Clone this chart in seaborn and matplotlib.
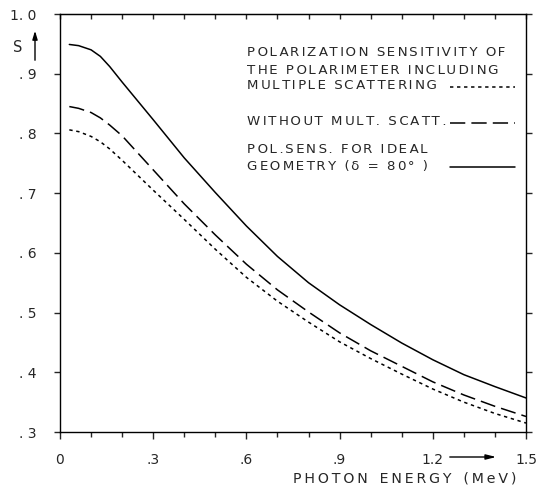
import numpy as np
import pandas as pd
import matplotlib
matplotlib.use("Agg")
import matplotlib.pyplot as plt
import seaborn as sns

# ---- data ----
energy = [0.03, 0.06, 0.1, 0.13, 0.16, 0.2, 0.3, 0.4, 0.5, 0.6, 0.7, 0.8, 0.9, 1.0, 1.1, 1.2, 1.3, 1.4, 1.5]
s_ideal = [0.949, 0.947, 0.940, 0.929, 0.912, 0.886, 0.823, 0.759, 0.701, 0.645, 0.594, 0.550, 0.513,
           0.480, 0.449, 0.421, 0.396, 0.376, 0.357]
s_no_mult = [0.845, 0.842, 0.835, 0.826, 0.814, 0.796, 0.739, 0.682, 0.630, 0.581, 0.538, 0.501, 0.466,
             0.436, 0.410, 0.384, 0.362, 0.343, 0.326]
s_mult = [0.806, 0.803, 0.795, 0.786, 0.774, 0.755, 0.705, 0.656, 0.606, 0.559, 0.519, 0.484, 0.451,
          0.423, 0.397, 0.372, 0.350, 0.331, 0.315]

x_ticks = [0, 0.3, 0.6, 0.9, 1.2, 1.5]
x_ticklabels = ["0", ".3", ".6", ".9", "1.2", "1.5"]
y_ticks = [0.3, 0.4, 0.5, 0.6, 0.7, 0.8, 0.9, 1.0]
y_ticklabels = [". 3", ". 4", ". 5", ". 6", ". 7", ". 8", ". 9", "1. 0"]

legend_lines = [
    ["POLARIZATION SENSITIVITY OF", "THE POLARIMETER INCLUDING", "MULTIPLE SCATTERING"],
    ["WITHOUT MULT. SCATT."],
    ["POL.SENS. FOR IDEAL", "GEOMETRY (δ = 80° )"],
]
xlabel = "PHOTON ENERGY (MeV)"
ylabel = "S"

df = pd.DataFrame({"E": energy, "ideal": s_ideal, "nomult": s_no_mult, "mult": s_mult})

sns.set_style("ticks")
plt.rcParams["font.family"] = ["DejaVu Sans"]

fig = plt.figure(figsize=(5.39, 4.87), dpi=100)
ax = fig.add_axes([60 / 539, 1 - 432 / 487, 466 / 539, 418 / 487])

ls_mult = (0, (2.2, 2.4))
ls_nomult = (0, (10, 4))
sns.lineplot(data=df, x="E", y="ideal", ax=ax, color="black", lw=1.1, linestyle="-")
sns.lineplot(data=df, x="E", y="nomult", ax=ax, color="black", lw=1.1, linestyle=ls_nomult)
sns.lineplot(data=df, x="E", y="mult", ax=ax, color="black", lw=1.1, linestyle=ls_mult)

ax.set_xlim(0, 1.5)
ax.set_ylim(0.3, 1.0)
ax.set_xticks(x_ticks)
ax.set_xticklabels(x_ticklabels, fontsize=10)
ax.set_xticks(np.arange(0, 1.51, 0.1), minor=True)
ax.set_yticks(y_ticks)
ax.set_yticklabels(y_ticklabels, fontsize=10)
ax.set_xlabel("")
ax.set_ylabel("")
for sp in ax.spines.values():
    sp.set_visible(True)
    sp.set_linewidth(1.0)
    sp.set_color("black")
ax.tick_params(axis="x", which="major", direction="out", length=5, width=1, pad=10, bottom=True, top=False)
ax.tick_params(axis="x", which="minor", direction="out", length=3.5, width=1, bottom=True, top=False)
ax.tick_params(axis="y", which="major", direction="out", length=4, width=1, pad=13, left=True, right=True)

top = ax.secondary_xaxis("top")
top.set_xticks(np.arange(0, 1.51, 0.1))
top.set_xticklabels([])
top.tick_params(direction="in", length=3.5, width=1)


# letter-spaced lettering, alternating thin and hair spaces
def spaced(t):
    out = ""
    for i, ch in enumerate(t):
        out += ch
        if i < len(t) - 1:
            out += "\u2009" if i % 2 == 0 else "\u200a"
    return out


tx = (247 - 60) / 466
text_y = [[0.907, 0.866, 0.828], [0.742], [0.677, 0.634]]
for lines, ys in zip(legend_lines, text_y):
    for t, y in zip(lines, ys):
        ax.text(tx, y, spaced(t), transform=ax.transAxes, fontsize=9.6, va="center", ha="left")
ax.plot([0.837, 0.977], [0.826, 0.826], transform=ax.transAxes, color="black", lw=1.1, linestyle=ls_mult)
ax.plot([0.837, 0.977], [0.739, 0.739], transform=ax.transAxes, color="black", lw=1.1, linestyle=ls_nomult)
ax.plot([0.837, 0.977], [0.634, 0.634], transform=ax.transAxes, color="black", lw=1.1, linestyle="-")

# axis labels
xl = "\u2009  ".join(["\u2009".join(w) for w in xlabel.split(" ")])
fig.text(293 / 539, 1 - 478 / 487, xl, fontsize=10.2, ha="left", va="center")
fig.text(18 / 539, 1 - 47 / 487, ylabel, fontsize=10.5, ha="center", va="center")
fig.add_artist(matplotlib.patches.FancyArrowPatch(
    (35 / 539, 1 - 63 / 487), (35 / 539, 1 - 28 / 487), transform=fig.transFigure,
    arrowstyle="-|>,head_length=5,head_width=1.5", color="black", lw=1.0))
fig.add_artist(matplotlib.patches.FancyArrowPatch(
    (447 / 539, 1 - 457 / 487), (499 / 539, 1 - 457 / 487), transform=fig.transFigure,
    arrowstyle="-|>,head_length=6,head_width=1.5", color="black", lw=1.0))

fig.savefig("out.png", dpi=100)
